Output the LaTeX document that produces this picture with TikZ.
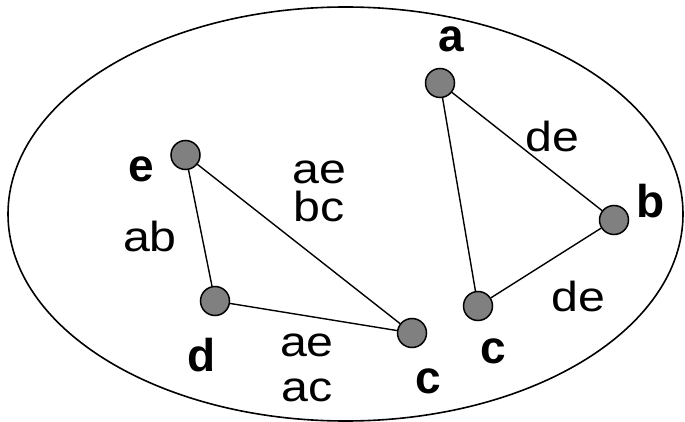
\documentclass[tikz,border=0pt]{standalone}
\usepackage{fontspec}
\setmainfont{Liberation Sans}
\newfontfamily\normlab[FakeStretch=1.15]{Liberation Sans}
\begin{document}
\begin{tikzpicture}[x=1pt,y=-1pt,
  vtx/.style={circle,draw=black,line width=1.5pt,minimum size=29pt,inner sep=0pt,fill={rgb,255:red,128;green,128;blue,128}},
  vlab/.style={anchor=base,inner sep=0pt,font=\fontsize{46}{46}\selectfont\bfseries},
  elab/.style={anchor=base,inner sep=0pt,font=\normlab\fontsize{42}{42}\selectfont},
  edge/.style={line width=1.4pt}]
\useasboundingbox (0,0) rectangle (685,422);
\draw[line width=1.6pt] (345.5,214) ellipse [x radius=337.5, y radius=207];
\node[vtx] (e) at (185.5,155) {};
\node[vtx] (d) at (215,301) {};
\node[vtx] (c1) at (412,333) {};
\node[vtx] (a) at (440,83) {};
\node[vtx] (b) at (614,220) {};
\node[vtx] (c2) at (478,306) {};
\draw[edge] (e) -- (d);
\draw[edge] (e) -- (c1);
\draw[edge] (d) -- (c1);
\draw[edge] (a) -- (b);
\draw[edge] (a) -- (c2);
\draw[edge] (b) -- (c2);
\node[vlab] (le) at (141.5,182) {e};
\node[vlab] (ld) at (201.5,371.5) {d};
\node[vlab] (lc1) at (428.5,393) {c};
\node[vlab] (la) at (451.5,52) {a};
\node[vlab] (lb) at (651,218) {b};
\node[vlab] (lc2) at (493.5,363) {c};
\node[elab] (l1) at (150,251) {ab};
\node[elab] (l2a) at (319.5,184) {ae};
\node[elab] (l2b) at (319.5,222) {bc};
\node[elab] (l3a) at (307,356) {ae};
\node[elab] (l3b) at (307,401.5) {ac};
\node[elab] (l4) at (552,151.5) {de};
\node[elab] (l5) at (578,311.5) {de};
\end{tikzpicture}
\end{document}
